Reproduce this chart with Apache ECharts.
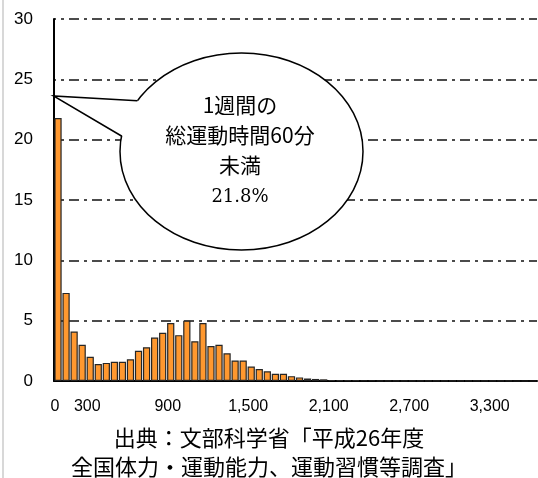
<!DOCTYPE html>
<html>
<head>
<meta charset="utf-8">
<script src="https://cdn.jsdelivr.net/npm/echarts@6/dist/echarts.min.js"></script>
<style>
  html, body { margin: 0; padding: 0; background: #fff; }
  #chart { width: 538px; height: 478px; }
</style>
</head>
<body>
<div id="chart"></div>
<script>
// Share of pupils (%) by weekly total exercise time, 60-minute bins
const binShare = [
  21.8, 7.3, 4.1, 3.0, 2.0, 1.4, 1.5, 1.6, 1.6, 1.8,
  2.5, 2.8, 3.6, 4.0, 4.8, 3.8, 5.0, 3.3, 4.8, 2.9,
  3.0, 2.3, 1.7, 1.7, 1.2, 1.0, 0.8, 0.6, 0.6, 0.4,
  0.3, 0.2, 0.17, 0.14, 0.08, 0.07, 0.05, 0.05, 0.04, 0.04,
  0.03, 0.03, 0.03, 0.02, 0.02, 0.02, 0.02, 0.02, 0.02, 0.01,
  0.01, 0.01, 0.01, 0.01, 0.01, 0.01, 0.01, 0, 0, 0
];
// Bin index of each labelled tick, and its text (minutes)
const tickIndex = [0, 4, 14, 24, 34, 44, 54];
const tickText = ['0', '300', '900', '1,500', '2,100', '2,700', '3,300'];
const yTicks = [0, 5, 10, 15, 20, 25, 30];

const calloutLines = ['1週間の', '総運動時間60分', '未満'];
const calloutValue = '21.8%';
const sourceText = '出典：文部科学省「平成26年度\n全国体力・運動能力、運動習慣等調査」';

const categories = binShare.map((_, i) => String(i));

const chart = echarts.init(document.getElementById('chart'), null, { renderer: 'canvas' });

const jpFont = '"Noto Sans CJK JP", "Noto Sans", sans-serif';

const option = {
  animation: false,
  backgroundColor: '#ffffff',
  title: {
    text: sourceText,
    left: 'center',
    top: 423,
    padding: 0,
    textStyle: {
      fontFamily: jpFont,
      fontSize: 22,
      fontWeight: 'normal',
      color: '#000',
      lineHeight: 29
    }
  },
  grid: { left: 54, right: 1, top: 19, bottom: 97, containLabel: false },
  xAxis: {
    type: 'category',
    data: categories,
    axisLine: { lineStyle: { color: '#000', width: 2 } },
    axisTick: { show: false },
    axisLabel: {
      interval: (i) => tickIndex.indexOf(i) >= 0,
      formatter: (v, i) => {
        const k = tickIndex.indexOf(i);
        return k >= 0 ? tickText[k] : '';
      },
      margin: 18,
      padding: [0, 6, 0, 0],
      fontFamily: '"Liberation Sans", Arial, sans-serif',
      fontSize: 16,
      color: '#000'
    },
    splitLine: { show: false }
  },
  yAxis: {
    type: 'value',
    min: yTicks[0],
    max: yTicks[yTicks.length - 1],
    interval: 5,
    axisLine: { show: true, lineStyle: { color: '#000', width: 2 } },
    axisTick: { show: false },
    axisLabel: {
      margin: 21,
      fontFamily: '"Liberation Sans", Arial, sans-serif',
      fontSize: 17,
      color: '#000'
    },
    splitLine: {
      show: true,
      lineStyle: { color: '#111', width: 1.6, type: [10, 5, 3, 5], dashOffset: 8 }
    }
  },
  series: [{
    type: 'bar',
    data: binShare,
    barCategoryGap: '10%',
    itemStyle: { color: '#ff982f', borderColor: '#262626', borderWidth: 1.2 },
    z: 3
  }],
  graphic: [
    // thin frame line at the left edge
    { type: 'line', shape: { x1: 3, y1: 0, x2: 3, y2: 478 }, style: { stroke: '#d8d8d8', lineWidth: 2 }, z: 1 },
    // speech-bubble callout for the first bin
    { type: 'ellipse', shape: { cx: 241.5, cy: 151.5, rx: 121.5, ry: 98.5 },
      style: { fill: '#fff', stroke: '#000', lineWidth: 1.5 }, z: 10 },
    { type: 'polygon', shape: { points: [[138.5, 100.7], [53.5, 96], [122.8, 136], [134, 132], [142, 106]] },
      style: { fill: '#fff', stroke: null }, z: 11 },
    { type: 'polyline', shape: { points: [[137.4, 100.7], [53.5, 96], [121.5, 136]] },
      style: { fill: null, stroke: '#000', lineWidth: 1.5 }, z: 12 },
    { type: 'text', x: 240, y: 105, z: 13,
      style: { text: calloutLines[0], font: '21px ' + jpFont, fill: '#000', align: 'center', verticalAlign: 'middle' } },
    { type: 'text', x: 240, y: 135, z: 13,
      style: { text: calloutLines[1], font: '21px ' + jpFont, fill: '#000', align: 'center', verticalAlign: 'middle' } },
    { type: 'text', x: 240, y: 165, z: 13,
      style: { text: calloutLines[2], font: '21px ' + jpFont, fill: '#000', align: 'center', verticalAlign: 'middle' } },
    { type: 'text', x: 240, y: 197, z: 13,
      style: { text: calloutValue, font: '18px "DejaVu Serif", serif', fill: '#000', align: 'center', verticalAlign: 'middle' } }
  ]
};

chart.setOption(option);
</script>
</body>
</html>
